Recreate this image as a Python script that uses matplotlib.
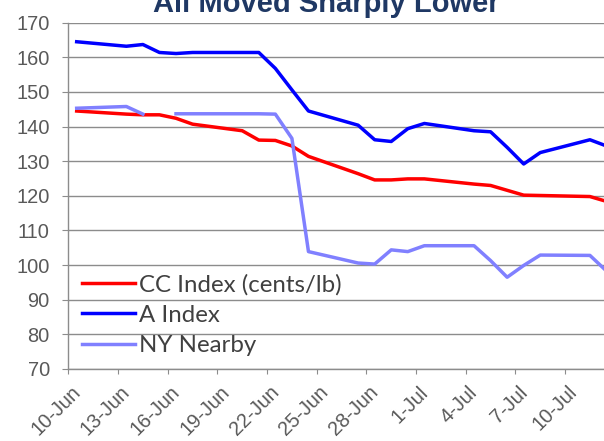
import matplotlib
matplotlib.use('Agg')
import matplotlib.pyplot as plt
import matplotlib.transforms as mtransforms
import numpy as np
import pandas as pd

# Trading days (2011) and index values
dates = ['2011-06-10', '2011-06-13', '2011-06-14', '2011-06-15', '2011-06-16',
         '2011-06-17', '2011-06-20', '2011-06-21', '2011-06-22', '2011-06-23',
         '2011-06-24', '2011-06-27', '2011-06-28', '2011-06-29', '2011-06-30',
         '2011-07-01', '2011-07-04', '2011-07-05', '2011-07-06', '2011-07-07',
         '2011-07-08', '2011-07-11', '2011-07-12']

cc_index = [144.5, 143.6, 143.4, 143.4, 142.4, 140.7, 138.8, 136.1, 136.0, 134.4,
            131.4, 126.4, 124.6, 124.6, 124.9, 124.9, 123.4, 123.0, 121.6, 120.2,
            120.1, 119.8, 118.4]

a_index = [164.5, 163.2, 163.7, 161.4, 161.1, 161.4, 161.4, 161.4, 156.8, 150.6,
           144.5, 140.4, 136.2, 135.7, 139.4, 140.9, 138.8, 138.5, 134.0, 129.2,
           132.5, 136.2, 134.4]

ny_nearby = [145.3, 145.8, 143.6, np.nan, 143.7, 143.7, 143.7, 143.7, 143.6, 136.6,
             103.9, 100.6, 100.3, 104.4, 103.9, 105.6, 105.6, 101.3, 96.5, 99.9,
             102.9, 102.8, 98.3]

labels = ['CC Index (cents/lb)', 'A Index', 'NY Nearby']
colors = ['#FF0000', '#0000FF', '#8080FF']

start = pd.Timestamp('2011-06-10')
days = (pd.to_datetime(dates) - start).days.to_numpy()
tick_dates = pd.date_range(start, periods=11, freq='3D')
tick_labels = [f"{d.day}-{d.strftime('%b')}" for d in tick_dates]

fig = plt.figure(figsize=(6.04, 4.41), dpi=100)
ax = fig.add_axes([68.4 / 604, 1 - 369 / 441, 1 - 68.4 / 604, (369 - 22.7) / 441])

for series, lab, col in zip([cc_index, a_index, ny_nearby], labels, colors):
    ax.plot(days, series, color=col, lw=2.5, label=lab, solid_joinstyle='round')

grid_col = '#8c8c8c'
ax.set_ylim(70, 170)
ax.set_yticks(range(70, 171, 10))
ax.set_xlim(-0.5, 31.85)
ax.set_xticks((tick_dates - start).days.to_numpy() - 0.5)
ax.set_xticklabels(tick_labels)
ax.yaxis.grid(True, color=grid_col, lw=1.0)
ax.set_axisbelow(True)

for side in ['top', 'right']:
    ax.spines[side].set_visible(False)
for side in ['left', 'bottom']:
    ax.spines[side].set_color(grid_col)
    ax.spines[side].set_linewidth(1.0)

ax.tick_params(axis='y', length=4.3, pad=9.1, color=grid_col, labelcolor='#595959',
               labelsize=14.4, labelfontfamily='Liberation Sans')
ax.tick_params(axis='x', length=3.6, pad=13.7, color=grid_col, labelcolor='#595959',
               labelsize=14.4, labelfontfamily='Liberation Sans')

shift = mtransforms.ScaledTranslation(0.127, 0, fig.dpi_scale_trans)
for t in ax.get_xticklabels():
    t.set_rotation(45)
    t.set_rotation_mode('anchor')
    t.set_ha('right')
    t.set_va('baseline')
    t.set_transform(t.get_transform() + shift)

leg = ax.legend(loc='center left', bbox_to_anchor=(81.7 / 604, 1 - 315 / 441),
                bbox_transform=fig.transFigure, frameon=False, borderpad=0,
                borderaxespad=0, handlelength=2.2, handletextpad=0.2,
                labelspacing=0.4, prop={'family': 'Lato', 'size': 17.3})
for txt in leg.get_texts():
    txt.set_color('#404040')

fig.text(326 / 604, 1 - 12 / 441, 'All Moved Sharply Lower', ha='center', va='baseline',
         fontsize=21, fontweight='bold', color='#1F3864', family='Liberation Sans')

fig.savefig('out.png', dpi=100)
